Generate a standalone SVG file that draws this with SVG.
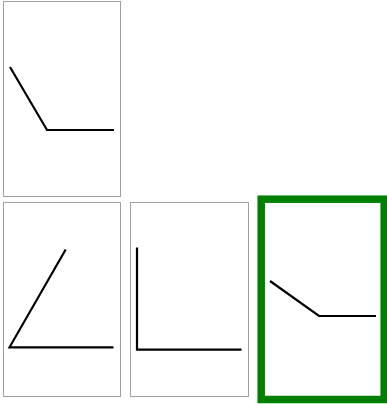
<svg xmlns="http://www.w3.org/2000/svg" width="387" height="404" viewBox="0 0 387 404">
<style>
.panel{fill:#ffffff;stroke:#a0a0a0;stroke-width:1}
.sel{fill:#ffffff;stroke:#008000;stroke-width:7.5}
.shape{fill:none;stroke:#000;stroke-width:2.2}
</style>
<rect width="387" height="404" fill="#ffffff"/>
<g id="panel1">
<rect class="panel" x="3.5" y="1.5" width="117" height="195"/>
<polyline class="shape" points="10,67 47,130 114,130"/>
</g>
<g id="panel2">
<rect class="panel" x="3.5" y="202.5" width="117" height="194"/>
<polyline class="shape" points="65.7,249.5 9.5,347.3 113.5,347.3"/>
</g>
<g id="panel3">
<rect class="panel" x="130.5" y="202.5" width="118" height="194"/>
<polyline class="shape" points="137,247.5 137,349.7 241.5,349.7"/>
</g>
<g id="panel4">
<rect class="sel" x="261.2" y="199.2" width="123" height="200.3"/>
<polyline class="shape" points="270,281 319,316 376,316"/>
</g>
</svg>
